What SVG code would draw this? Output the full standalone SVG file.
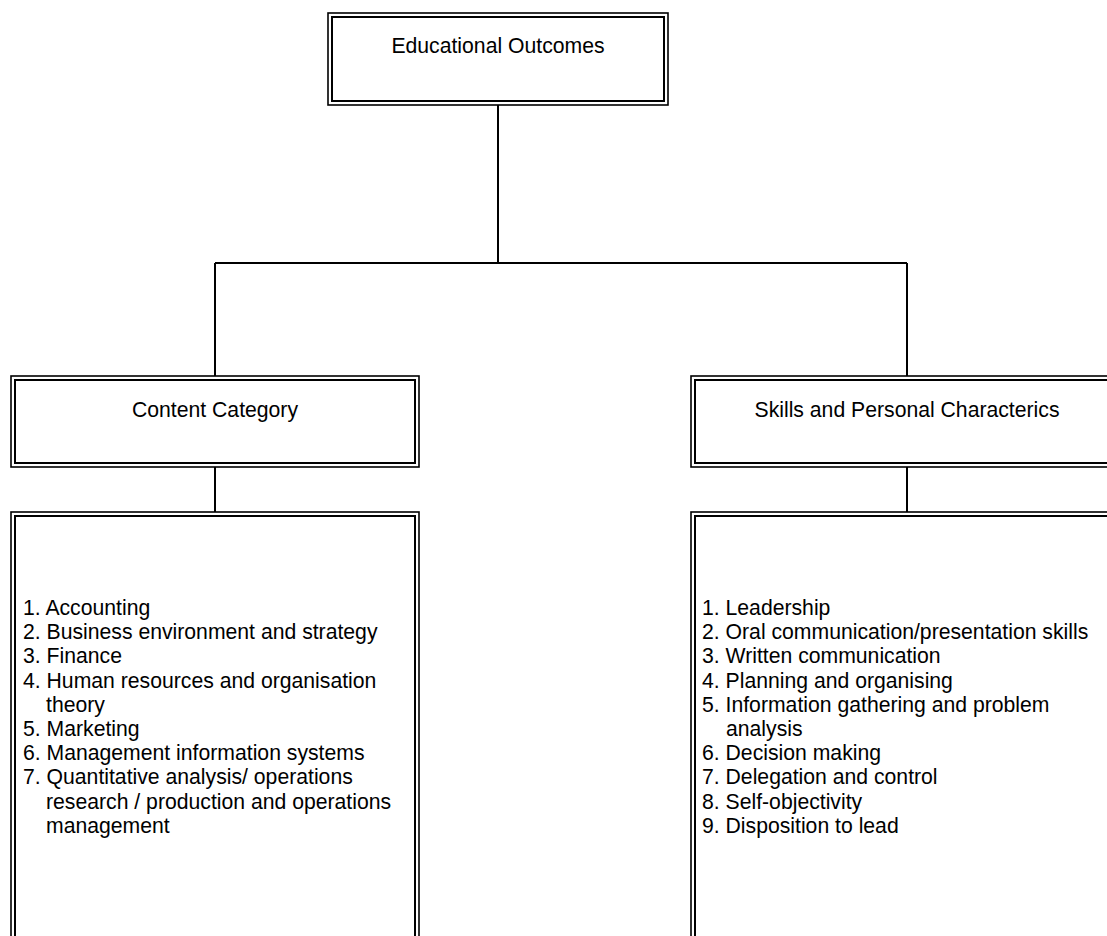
<svg xmlns="http://www.w3.org/2000/svg" width="1107" height="936" viewBox="0 0 1107 936">
<style>
.outer{fill:none;stroke:#000;stroke-width:1.6}
.inner{fill:none;stroke:#000;stroke-width:2}
.conn{fill:none;stroke:#000;stroke-width:2}
text{font-family:"Liberation Sans",Arial,sans-serif;font-size:21.2px;fill:#000}
.c{text-anchor:middle}
</style>
<rect width="1107" height="936" fill="#fff"/>
<g id="connectors">
<path class="conn" d="M498 105V263M215 263H907M215 263V376M907 263V376M215 467V512M907 467V512"/>
</g>
<g id="educational-outcomes">
<rect class="outer" x="328" y="13" width="340" height="92"/>
<rect class="inner" x="332" y="17" width="332" height="84"/>
<text class="c" x="498" y="53">Educational Outcomes</text>
</g>
<g id="content-category">
<rect class="outer" x="11" y="376" width="408" height="91"/>
<rect class="inner" x="15" y="380" width="400" height="83"/>
<text class="c" x="215" y="417">Content Category</text>
</g>
<g id="skills-category">
<rect class="outer" x="691" y="376" width="432" height="91"/>
<rect class="inner" x="695" y="380" width="424" height="83"/>
<text class="c" x="907" y="417">Skills and Personal Characterics</text>
</g>
<g id="content-list">
<rect class="outer" x="11" y="512" width="408" height="440"/>
<rect class="inner" x="15" y="516" width="400" height="432"/>
<text x="23" y="615">1. Accounting</text>
<text x="23" y="639.2">2. Business environment and strategy</text>
<text x="23" y="663.4">3. Finance</text>
<text x="23" y="687.6">4. Human resources and organisation</text>
<text x="46" y="711.8">theory</text>
<text x="23" y="736">5. Marketing</text>
<text x="23" y="760.2">6. Management information systems</text>
<text x="23" y="784.4">7. Quantitative analysis/ operations</text>
<text x="46" y="808.6">research / production and operations</text>
<text x="46" y="832.8">management</text>
</g>
<g id="skills-list">
<rect class="outer" x="691" y="512" width="432" height="440"/>
<rect class="inner" x="695" y="516" width="424" height="432"/>
<text x="702" y="615">1. Leadership</text>
<text x="702" y="639.2">2. Oral communication/presentation skills</text>
<text x="702" y="663.4">3. Written communication</text>
<text x="702" y="687.6">4. Planning and organising</text>
<text x="702" y="711.8">5. Information gathering and problem</text>
<text x="726" y="736">analysis</text>
<text x="702" y="760.2">6. Decision making</text>
<text x="702" y="784.4">7. Delegation and control</text>
<text x="702" y="808.6">8. Self-objectivity</text>
<text x="702" y="832.8">9. Disposition to lead</text>
</g>
</svg>
